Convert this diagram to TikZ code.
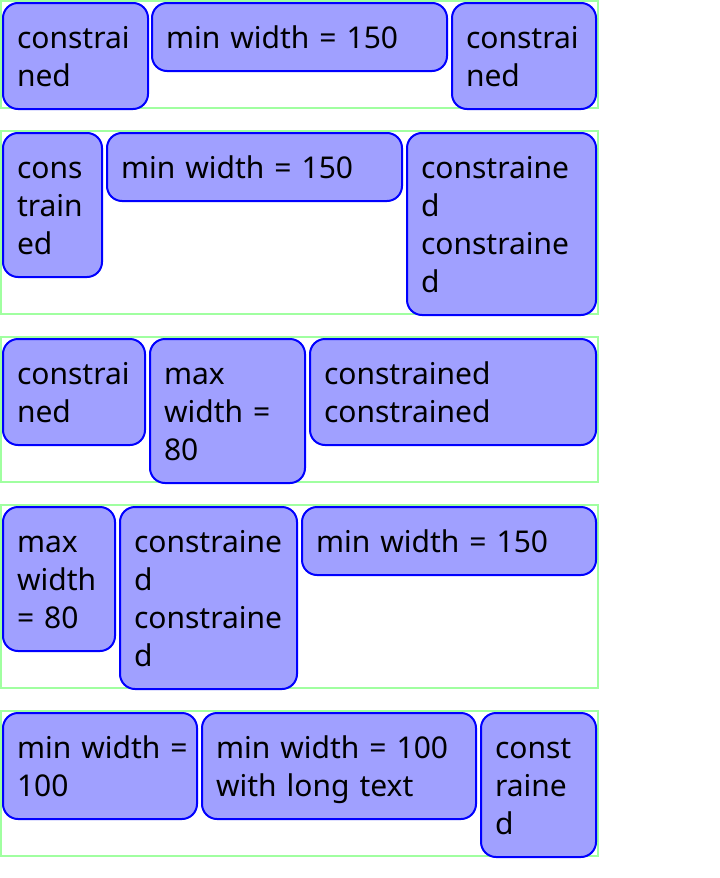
\documentclass[tikz,border=0pt]{standalone}
\usepackage{xcolor}
\usepackage{fontspec}
\setmainfont{Noto Sans}[WordSpace=0.8]
\usepackage{tikz}
\usetikzlibrary{positioning}
\definecolor{boxfill}{HTML}{A0A0FF}
\definecolor{boxline}{HTML}{0000FF}
\definecolor{rowframe}{HTML}{A0FFA0}
\newcommand{\bxstrut}{\rule[-8pt]{0pt}{38pt}}

\begin{document}
\begin{tikzpicture}[x=1pt, y=-1pt,
  box/.style={draw=boxline, fill=boxfill, line width=2pt, rounded corners=15pt,
    anchor=north west, align=left, inner xsep=14pt, inner ysep=15pt,
    font=\fontsize{30}{38}\selectfont,
    execute at begin node=\bxstrut, execute at end node=\bxstrut},
  frame/.style={draw=rowframe, line width=2pt}]
  \useasboundingbox (0,0) rectangle (720,878);
  % Rows
  \draw[frame] (1,1) rectangle (598,108);
  \draw[frame] (1,131) rectangle (598,314);
  \draw[frame] (1,337) rectangle (598,482);
  \draw[frame] (1,505) rectangle (598,688);
  \draw[frame] (1,711) rectangle (598,856);
  % Row 1
  \node[box, text width=117pt] (r1a) at (2,2) {constrai\\ned};
  \node[box, text width=267pt] (r1b) at (151,2) {min width = 150};
  \node[box, text width=116pt] (r1c) at (451,2) {constrai\\ned};
  % Row 2
  \node[box, text width=71pt] (r2a) at (2,132) {cons\\train\\ed};
  \node[box, text width=267pt] (r2b) at (106,132) {min width = 150};
  \node[box, text width=161pt] (r2c) at (406,132) {constraine\\d\\constraine\\d};
  % Row 3
  \node[box, text width=114pt] (r3a) at (2,338) {constrai\\ned};
  \node[box, text width=127pt] (r3b) at (149,338) {max\\width~=\\80};
  \node[box, text width=258pt] (r3c) at (309,338) {constrained\\constrained};
  % Row 4
  \node[box, text width=84pt] (r4a) at (2,506) {max\\width\\=~80};
  \node[box, text width=149pt] (r4b) at (119,506) {constraine\\d\\constraine\\d};
  \node[box, text width=266pt] (r4c) at (301,506) {min width = 150};
  % Row 5
  \node[box, text width=166pt] (r5a) at (2,712) {min~width~=\\100};
  \node[box, text width=246pt] (r5b) at (201,712) {min~width~=~100\\with long text};
  \node[box, text width=87pt] (r5c) at (480,712) {const\\raine\\d};
\end{tikzpicture}
\end{document}
